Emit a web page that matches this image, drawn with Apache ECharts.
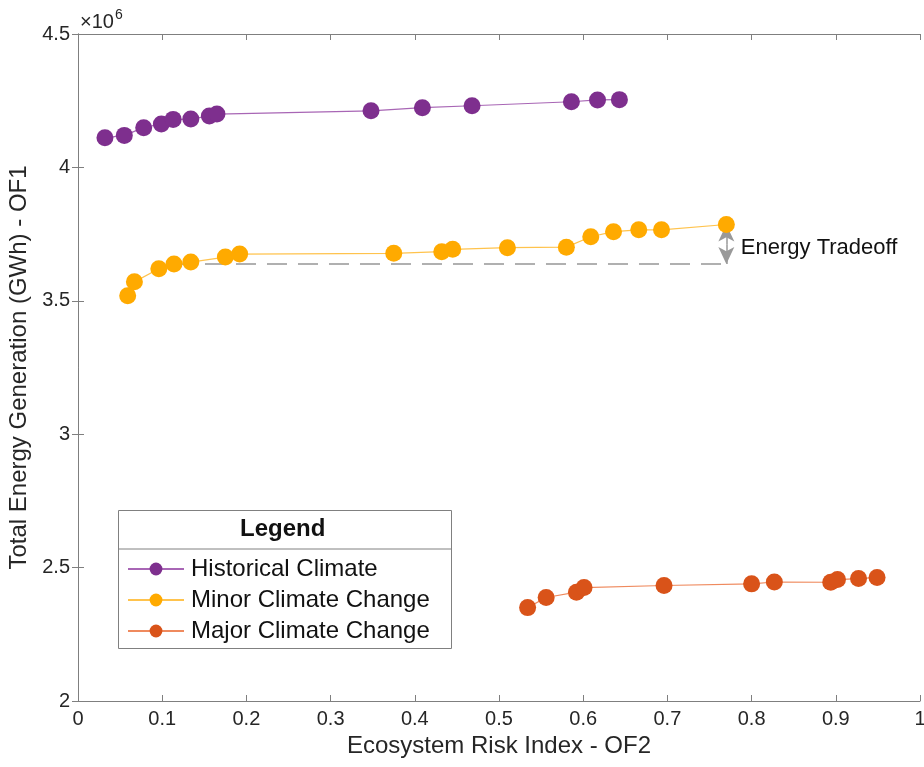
<!DOCTYPE html>
<html>
<head>
<meta charset="utf-8">
<script src="https://cdn.jsdelivr.net/npm/echarts@6/dist/echarts.min.js"></script>
<style>
  html, body { margin: 0; padding: 0; background: #fff; }
  #chart { width: 924px; height: 767px; }
</style>
</head>
<body>
<div id="chart"></div>
<script>
// values (y in units of 10^6 GWh)
const histX = [0.032, 0.055, 0.078, 0.099, 0.113, 0.134, 0.156, 0.165, 0.348, 0.409, 0.468, 0.586, 0.617, 0.643];
const histY = [4.111, 4.120, 4.149, 4.163, 4.180, 4.181, 4.193, 4.200, 4.212, 4.224, 4.231, 4.246, 4.253, 4.254];

const minorX = [0.059, 0.067, 0.096, 0.114, 0.134, 0.175, 0.192, 0.375, 0.432, 0.445, 0.510, 0.580, 0.609, 0.636, 0.666, 0.693, 0.770];
const minorY = [3.519, 3.571, 3.620, 3.638, 3.645, 3.664, 3.675, 3.678, 3.684, 3.693, 3.699, 3.701, 3.740, 3.759, 3.766, 3.766, 3.786];

const majorX = [0.534, 0.556, 0.592, 0.601, 0.696, 0.800, 0.827, 0.894, 0.902, 0.927, 0.949];
const majorY = [2.350, 2.388, 2.408, 2.425, 2.433, 2.439, 2.446, 2.445, 2.455, 2.459, 2.463];

const xTicks = [0, 0.1, 0.2, 0.3, 0.4, 0.5, 0.6, 0.7, 0.8, 0.9, 1];
const yTicks = [2, 2.5, 3, 3.5, 4, 4.5];

// tradeoff annotation: from minor point at x=0.114 to the last minor point
const tradeBaseY = minorY[3];
const tradeX = minorX[minorX.length - 1];
const tradeTopY = minorY[minorY.length - 1];

const zip = (xs, ys) => xs.map((x, i) => [x, ys[i]]);

const font = "Liberation Sans, Arial, sans-serif";
const axisGrey = "#7f7f7f";
const textDark = "#262626";

const chart = echarts.init(document.getElementById("chart"));

const tickAxis = {
  min: 0,
  max: 1,
  interval: 0.1,
  axisLine: { show: true, lineStyle: { color: axisGrey, width: 1 } },
  axisTick: { show: true, inside: true, length: 6, lineStyle: { color: axisGrey } },
  splitLine: { show: false },
};

const options = {
  animation: false,
  textStyle: { fontFamily: font },
  grid: { left: 78, right: 4, top: 34, bottom: 66, outerBoundsMode: "none", containLabel: false },
  xAxis: [
    Object.assign({}, tickAxis, {
      type: "value",
      position: "bottom",
      name: "Ecosystem Risk Index - OF2",
      nameLocation: "middle",
      nameGap: 32,
      nameTextStyle: { fontSize: 24, color: textDark, fontFamily: font },
      axisLabel: {
        fontSize: 20,
        color: textDark,
        margin: 8,
        formatter: (v) => (xTicks.includes(Math.round(v * 10) / 10) ? String(Math.round(v * 10) / 10) : ""),
      },
    }),
    Object.assign({}, tickAxis, {
      type: "value",
      position: "top",
      axisLabel: { show: false },
    }),
  ],
  yAxis: [
    {
      type: "value",
      position: "left",
      min: 2,
      max: 4.5,
      interval: 0.5,
      name: "Total Energy Generation (GWh) - OF1",
      nameLocation: "middle",
      nameGap: 41,
      nameTextStyle: { fontSize: 24, color: textDark, fontFamily: font },
      axisLine: { show: true, lineStyle: { color: axisGrey } },
      axisTick: { show: true, inside: true, length: 6, lineStyle: { color: axisGrey } },
      splitLine: { show: false },
      axisLabel: {
        fontSize: 20,
        color: textDark,
        margin: 8,
        formatter: (v) => {
          const r = Math.round(v * 10) / 10;
          return yTicks.includes(r) ? String(r) : "";
        },
      },
    },
    {
      type: "value",
      position: "right",
      min: 2,
      max: 4.5,
      interval: 0.5,
      axisLine: { show: true, lineStyle: { color: axisGrey } },
      axisTick: { show: true, inside: true, length: 6, lineStyle: { color: axisGrey } },
      splitLine: { show: false },
      axisLabel: { show: false },
    },
  ],
  legend: {
    orient: "vertical",
    left: 122,
    top: 552,
    itemWidth: 56,
    itemHeight: 16,
    itemGap: 7,
    textStyle: { fontSize: 24, lineHeight: 24, color: "#111", fontFamily: font, padding: [0, 0, 0, 2] },
    data: ["Historical Climate", "Minor Climate Change", "Major Climate Change"],
  },
  graphic: [
    {
      type: "rect",
      left: 118,
      top: 510,
      shape: { width: 333, height: 138 },
      style: { fill: "#fff", stroke: "#808080", lineWidth: 1 },
      z: 0,
    },
    {
      type: "line",
      shape: { x1: 118, y1: 549, x2: 451, y2: 549 },
      style: { stroke: "#808080", lineWidth: 1 },
      z: 1,
    },
    {
      type: "text",
      left: 240,
      top: 517,
      style: { text: "Legend", fontSize: 24, fontWeight: "bold", fill: "#111", fontFamily: font },
      z: 2,
    },
    {
      type: "text",
      left: 80,
      top: 8,
      style: {
        text: "{a|×10}{b|6}",
        rich: {
          a: { fontSize: 20, fill: textDark, fontFamily: font, verticalAlign: "bottom" },
          b: { fontSize: 14, fill: textDark, fontFamily: font, padding: [0, 0, 10, 1] },
        },
      },
    },
  ],
  series: [
    {
      name: "Historical Climate",
      type: "line",
      data: zip(histX, histY),
      symbol: "circle",
      symbolSize: 17,
      itemStyle: { color: "#7E2F8E" },
      lineStyle: { color: "#a866b5", width: 1.2 },
      z: 3,
    },
    {
      name: "Minor Climate Change",
      type: "line",
      data: zip(minorX, minorY),
      symbol: "circle",
      symbolSize: 17,
      itemStyle: { color: "#FFAA00" },
      lineStyle: { color: "#ffc34d", width: 1.2 },
      z: 3,
      markLine: {
        silent: true,
        z: 1,
        label: { show: false },
        data: [
          [
            { coord: [minorX[3], tradeBaseY], symbol: "none" },
            { coord: [tradeX, tradeBaseY], symbol: "none",
              lineStyle: { color: "#b0b0b0", width: 2, type: [20, 11] } },
          ],
          [
            { coord: [tradeX, (tradeBaseY + tradeTopY) / 2], symbol: "none" },
            { coord: [tradeX, tradeTopY], symbol: "arrow", symbolSize: [12, 17],
              lineStyle: { color: "#999999", width: 1.5, type: "solid" } },
          ],
          [
            { coord: [tradeX, (tradeBaseY + tradeTopY) / 2], symbol: "none" },
            { coord: [tradeX, tradeBaseY], symbol: "arrow", symbolSize: [12, 17],
              lineStyle: { color: "#999999", width: 1.5, type: "solid" } },
          ],
        ],
      },
      markPoint: {
        silent: true,
        symbol: "circle",
        symbolSize: 1,
        itemStyle: { color: "rgba(0,0,0,0)" },
        label: {
          show: true,
          position: "right",
          distance: 14,
          offset: [0, 4],
          formatter: "Energy Tradeoff",
          fontSize: 22,
          color: "#111",
          fontFamily: font,
        },
        data: [{ coord: [tradeX, (tradeBaseY + tradeTopY) / 2] }],
      },
    },
    {
      name: "Major Climate Change",
      type: "line",
      data: zip(majorX, majorY),
      symbol: "circle",
      symbolSize: 17,
      itemStyle: { color: "#D95319" },
      lineStyle: { color: "#ef8a5e", width: 1.2 },
      z: 3,
    },
  ],
};

chart.setOption(options);
</script>
</body>
</html>
